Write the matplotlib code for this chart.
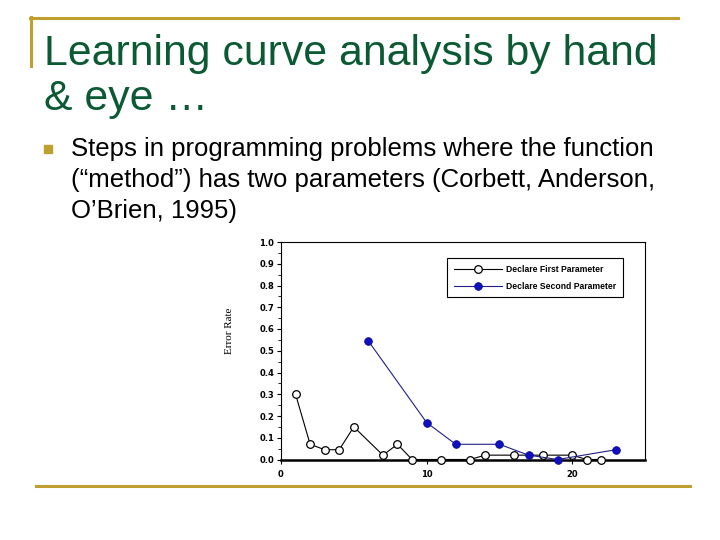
import matplotlib
matplotlib.use('Agg')
import matplotlib.pyplot as plt
from matplotlib.lines import Line2D
from matplotlib.ticker import MultipleLocator

# data
first_x = [1, 2, 3, 4, 5, 7, 8, 9, 11, 13, 14, 16, 18, 20, 21, 22]
first_y = [0.30, 0.07, 0.045, 0.045, 0.15, 0.02, 0.07, 0.0, 0.0, 0.0,
           0.02, 0.02, 0.02, 0.02, 0.0, 0.0]
second_x = [6, 10, 12, 15, 17, 19, 23]
second_y = [0.545, 0.17, 0.07, 0.07, 0.02, 0.0, 0.045]

first_label = 'Declare First Parameter'
second_label = 'Declare Second Parameter'
x_ticks = [0, 10, 20]
y_ticks = [0.0, 0.1, 0.2, 0.3, 0.4, 0.5, 0.6, 0.7, 0.8, 0.9, 1.0]

GOLD = '#bf9f2f'
GREEN = '#0b5a34'
W, H = 720, 540

fig = plt.figure(figsize=(7.2, 5.4), dpi=100)
fig.patch.set_facecolor('white')

# slide decoration
fig.add_artist(Line2D([30 / W, 678 / W], [1 - 18 / H, 1 - 18 / H],
                      color=GOLD, lw=2.2, transform=fig.transFigure))
fig.add_artist(Line2D([31 / W, 31 / W], [1 - 17 / H, 1 - 66 / H],
                      color=GOLD, lw=2.2, transform=fig.transFigure))
fig.add_artist(Line2D([36 / W, 690 / W], [1 - 486 / H, 1 - 486 / H],
                      color=GOLD, lw=2.2, transform=fig.transFigure))

fig.text(44 / W, 1 - 65 / H, 'Learning curve analysis by hand',
         family='Liberation Sans', fontsize=30.8, color=GREEN, va='baseline')
fig.text(44 / W, 1 - 110 / H, '& eye …',
         family='Liberation Sans', fontsize=30.8, color=GREEN, va='baseline')

fig.add_artist(plt.Rectangle((44 / W, 1 - 153 / H), 8 / W, 8 / H,
                             color=GOLD, transform=fig.transFigure))
body = ['Steps in programming problems where the function',
        '(“method”) has two parameters (Corbett, Anderson,',
        'O’Brien, 1995)']
for i, line in enumerate(body):
    fig.text(71 / W, 1 - (156 + 31 * i) / H, line,
             family='Liberation Sans', fontsize=18.5, color='black',
             va='baseline')

# chart
ax = fig.add_axes([281 / W, 1 - 459.5 / H, 364 / W, 217.5 / H])
ax.plot(first_x, first_y, color='black', lw=0.8, marker='o', ms=5.5,
        mfc='white', mec='black', mew=0.9, label=first_label, clip_on=False,
        zorder=3)
ax.plot(second_x, second_y, color='#202088', lw=0.8, marker='o', ms=5.5,
        mfc='#1010c0', mec='#0a0a90', mew=0.6, label=second_label,
        clip_on=False, zorder=3)

ax.set_xlim(0, 25)
ax.set_ylim(0, 1.0)
ax.set_xticks(x_ticks)
ax.set_yticks(y_ticks)
ax.yaxis.set_minor_locator(MultipleLocator(0.05))
ax.set_yticklabels([f'{v:.1f}' for v in y_ticks])
for lab in ax.get_xticklabels() + ax.get_yticklabels():
    lab.set_fontsize(6)
    lab.set_fontweight('bold')
ax.tick_params(axis='both', which='major', direction='out', length=3,
               width=0.8, pad=2)
ax.tick_params(axis='x', which='major', pad=4.5)
ax.tick_params(axis='y', which='minor', direction='out', length=2, width=0.6)
for side in ['left', 'top', 'right']:
    ax.spines[side].set_linewidth(0.8)
ax.spines['bottom'].set_linewidth(1.8)

fig.text(229 / W, 1 - 331 / H, 'Error Rate', family='Liberation Serif',
         fontsize=8, rotation=90, ha='center', va='center')

leg = ax.legend(loc='center', bbox_to_anchor=(0.445, 0.744, 0.506, 0.184),
                mode='expand', fancybox=False, edgecolor='black',
                framealpha=1, handlelength=5.6, handletextpad=0.4,
                borderpad=0.8, labelspacing=0.9,
                prop={'family': 'Liberation Sans', 'size': 6.2,
                      'weight': 'bold'})
leg.get_frame().set_linewidth(0.8)

fig.savefig('out.png', dpi=100)
